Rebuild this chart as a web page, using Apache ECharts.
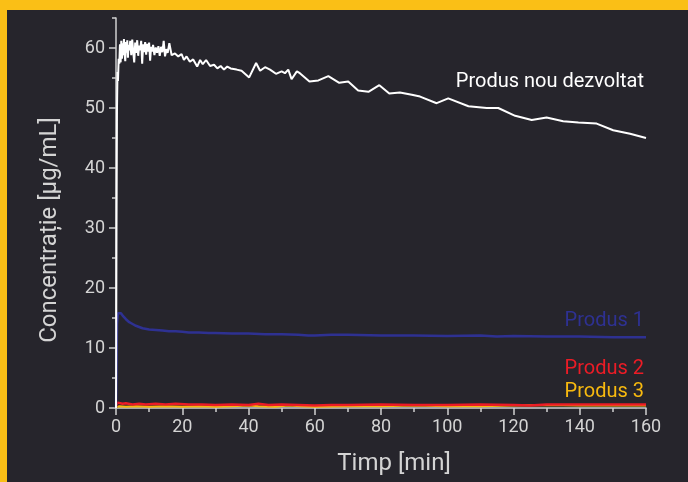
<!DOCTYPE html>
<html>
<head>
<meta charset="utf-8">
<script src="https://cdn.jsdelivr.net/npm/echarts@6/dist/echarts.min.js"></script>
<style>
  html, body { margin: 0; padding: 0; background: #fabf16; width: 688px; height: 482px; overflow: hidden; }
  #chart { position: absolute; left: 7px; top: 10px; width: 681px; height: 472px; }
</style>
</head>
<body>
<div id="chart"></div>
<script>
// time [min], concentration [µg/mL]
const newProduct = [
  [0, 0], [0.15, 30], [0.3, 50], [0.45, 56], [0.6, 54.5], [0.8, 58.2], [1.0, 57.4], [1.2, 60.6],
  [1.4, 57.6], [1.6, 61.2], [1.8, 58.2], [2.0, 60.8], [2.2, 58.8], [2.4, 61.5], [2.6, 59], [2.8, 57.8],
  [3.0, 61], [3.2, 59.2], [3.4, 61.3], [3.6, 58.4], [3.8, 60.5], [4.0, 59.6], [4.3, 61.2], [4.6, 58.8],
  [4.9, 61.4], [5.2, 59.4], [5.5, 57.6], [5.8, 60.9], [6.1, 59.2], [6.4, 61.3], [6.7, 58.7], [7.0, 60.4],
  [7.3, 59.6], [7.6, 61.2], [7.9, 57.4], [8.2, 60.6], [8.5, 59.3], [8.8, 61], [9.1, 58.9], [9.4, 60.7],
  [9.7, 59.4], [10.0, 60.9], [10.3, 57.9], [10.6, 60.2], [10.9, 59.4], [11.2, 60.5], [11.6, 58.8],
  [12.0, 60.1], [12.4, 59.2], [12.8, 60.3], [13.2, 58.7], [13.6, 60.2], [14.0, 59.3], [14.4, 61.2],
  [14.8, 58.6], [15.2, 59.8], [15.6, 59.2], [16.1, 60.8], [16.8, 58.8], [17.8, 59.1], [18.8, 58.6],
  [19.8, 59], [20.5, 58], [21.3, 58.6], [22.3, 57.7], [23.3, 58.1], [24.5, 56.9], [25.4, 58],
  [26.2, 57.3], [27.2, 58], [28.4, 57], [29.6, 57.2], [30.6, 56.6], [31.6, 57], [32.6, 56.4],
  [33.6, 56.9], [34.6, 56.6], [36.4, 56.4], [37.9, 56.2], [40.2, 55.1], [42.3, 57.5], [43.5, 56.2],
  [45, 56.8], [46.5, 56.4], [48.3, 55.7], [50, 56.1], [51, 55.8], [52, 56.4], [53, 54.8], [54.6, 56.1],
  [55.5, 55.8], [58.4, 54.4], [61.1, 54.6], [64.1, 55.3], [67.4, 54.2], [70.1, 54.4], [73.1, 52.9],
  [76.2, 52.7], [79.5, 53.8], [82.5, 52.4], [85.7, 52.6], [89.3, 52.2], [91.8, 51.9], [96.8, 50.8],
  [100.3, 51.6], [106.4, 50.3], [111.9, 50], [115.4, 50], [120.5, 48.7], [125.5, 48], [130, 48.4],
  [135, 47.8], [139.6, 47.6], [145.1, 47.4], [150.1, 46.3], [155.2, 45.7], [160, 45]
]

const product1 = [
  [0, 0], [0.3, 14], [0.6, 15.8], [1, 16], [1.5, 15.8], [2, 15.4], [3, 14.8], [4, 14.3], [5, 14],
  [6, 13.7], [7, 13.5], [8, 13.3], [10, 13.1], [12, 13], [14, 12.9], [16, 12.8], [18, 12.8], [20, 12.7],
  [22, 12.6], [25, 12.6], [28, 12.5], [30, 12.5], [35, 12.4], [40, 12.4], [45, 12.3], [50, 12.3],
  [55, 12.2], [58, 12.1], [60, 12.1], [65, 12.2], [70, 12.2], [80, 12.1], [90, 12.1], [100, 12],
  [110, 12.1], [115, 11.9], [120, 12], [130, 11.9], [140, 11.9], [150, 11.8], [160, 11.8]
]

const product2 = [
  [0, 0.4], [0.5, 0.9], [1, 0.8], [2, 0.7], [3, 0.8], [5, 0.6], [7, 0.7], [9, 0.6], [12, 0.7], [15, 0.6],
  [18, 0.7], [22, 0.6], [26, 0.6], [30, 0.5], [35, 0.6], [40, 0.5], [43, 0.7], [46, 0.5], [50, 0.6],
  [55, 0.5], [60, 0.4], [65, 0.5], [70, 0.5], [80, 0.6], [90, 0.5], [100, 0.5], [110, 0.6], [120, 0.5],
  [125, 0.4], [130, 0.6], [140, 0.6], [150, 0.6], [160, 0.6]
]

const product3 = [
  [0, 0.1], [1, 0.3], [3, 0.2], [6, 0.3], [10, 0.2], [15, 0.3], [20, 0.2], [25, 0.3], [30, 0.2], [35, 0.3],
  [40, 0.4], [43, 0.3], [48, 0.2], [52, 0.4], [56, 0.3], [60, 0.2], [70, 0.3], [80, 0.3], [90, 0.4],
  [100, 0.3], [110, 0.3], [120, 0.4], [130, 0.5], [140, 0.4], [150, 0.4], [160, 0.4]
]

const yMajorTicks = [0, 10, 20, 30, 40, 50, 60]

const axisColor = '#d0d0d0'
const textColor = '#d4d4d4'

const chart = echarts.init(document.getElementById('chart'))

const endLabel = (text, value, color) => ({
  symbol: 'circle',
  symbolSize: 0,
  silent: true,
  data: [{ coord: [160, value], name: text }],
  label: {
    show: true,
    position: 'left',
    distance: 2,
    formatter: '{b}',
    color: color,
    fontSize: 20,
    fontFamily: 'Roboto'
  }
})

const lineSeries = (name, data, color, width, labelValue) => ({
  name: name,
  type: 'line',
  data: data,
  showSymbol: false,
  symbol: 'none',
  lineStyle: { color: color, width: width },
  itemStyle: { color: color },
  z: 2,
  markPoint: endLabel(name, labelValue, color)
})

const option = {
  backgroundColor: '#26252c',
  animation: false,
  textStyle: { fontFamily: 'Roboto' },
  grid: { left: 109, right: 42, top: 8, bottom: 74, containLabel: false },
  xAxis: {
    type: 'value',
    min: 0,
    max: 160,
    interval: 20,
    name: 'Timp [min]',
    nameLocation: 'middle',
    nameGap: 44,
    nameTextStyle: { color: textColor, fontSize: 24, padding: [0, 0, 0, 26] },
    axisLine: { show: true, lineStyle: { color: axisColor, width: 1.5 } },
    axisTick: { show: true, length: 7, lineStyle: { color: axisColor, width: 1.5 } },
    minorTick: { show: true, splitNumber: 2, length: 4, lineStyle: { color: axisColor, width: 1.5 } },
    axisLabel: { color: textColor, fontSize: 18, margin: 10 },
    splitLine: { show: false },
    minorSplitLine: { show: false }
  },
  yAxis: [
    {
      type: 'value',
      min: 0,
      max: 65,
      interval: 5,
      name: 'Concentrație [µg/mL]',
      nameLocation: 'middle',
      nameGap: 54,
      nameRotate: 90,
      nameTextStyle: { color: textColor, fontSize: 24, padding: [0, 34, 0, 0] },
      axisLine: { show: true, lineStyle: { color: axisColor, width: 1.5 } },
      axisTick: { show: true, length: 4, lineStyle: { color: axisColor, width: 1.5 } },
      axisLabel: { color: textColor, fontSize: 18, margin: 11, customValues: yMajorTicks },
      splitLine: { show: false }
    },
    {
      type: 'value',
      min: 0,
      max: 65,
      position: 'left',
      axisLine: { show: false },
      axisTick: { show: true, length: 7, customValues: yMajorTicks, lineStyle: { color: axisColor, width: 1.5 } },
      axisLabel: { show: false },
      splitLine: { show: false }
    }
  ],
  series: [
    lineSeries('Produs 3', product3, '#f7b90f', 2, 2.7),
    lineSeries('Produs 2', product2, '#ec1c26', 2.5, 6.5),
    lineSeries('Produs 1', product1, '#2e3192', 2.5, 14.5),
    lineSeries('Produs nou dezvoltat', newProduct, '#ffffff', 2, 54.3)
  ]
}

chart.setOption(option)
</script>
</body>
</html>
